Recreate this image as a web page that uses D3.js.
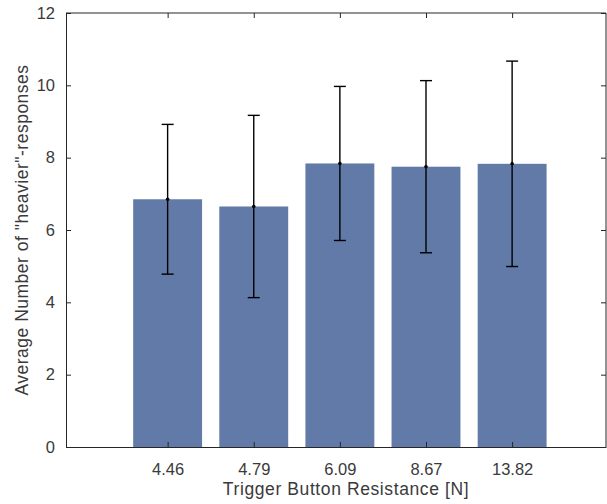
<!DOCTYPE html>
<html>
<head>
<meta charset="utf-8">
<script src="https://cdn.jsdelivr.net/npm/d3@7"></script>
<style>
  html, body { margin: 0; padding: 0; background: #fff; }
  svg { display: block; font-family: "Liberation Sans", Arial, sans-serif; }
</style>
</head>
<body>
<div id="chart"></div>
<script>
// Data
const categories = ["4.46", "4.79", "6.09", "8.67", "13.82"];
const means = [6.85, 6.65, 7.84, 7.75, 7.83];
const errors = [2.07, 2.52, 2.13, 2.38, 2.84];
const yTicks = [0, 2, 4, 6, 8, 10, 12];

const width = 607, height = 504;
const plotL = 66, plotR = 606, plotT = 13, plotB = 447;

const svg = d3.select("#chart").append("svg")
    .attr("width", width)
    .attr("height", height);

// bars sit at integer positions 1..5 like matlab's bar()
const x = d3.scaleLinear().domain([-0.18, 6.09]).range([plotL, plotR]);
const y = d3.scaleLinear().domain([0, 12]).range([plotB, plotT]);
const barW = x(0.8) - x(0);

const data = categories.map((c, i) => ({ cat: c, pos: i + 1, mean: means[i], err: errors[i] }));

// bars
svg.selectAll("rect.bar")
    .data(data)
    .enter()
    .append("rect")
    .attr("class", "bar")
    .attr("x", d => x(d.pos) - barW / 2)
    .attr("y", d => y(d.mean))
    .attr("width", barW)
    .attr("height", d => y(0) - y(d.mean))
    .attr("fill", "#627aa8");

// axes box
const axisCol = "#262626";
svg.append("line").attr("x1", plotL).attr("x2", plotR).attr("y1", plotT).attr("y2", plotT)
    .attr("stroke", axisCol).attr("stroke-width", 1);
svg.append("line").attr("x1", plotR).attr("x2", plotR).attr("y1", plotT).attr("y2", plotB)
    .attr("stroke", axisCol).attr("stroke-width", 1);

// left axis, ticks pointing inward
const yAxis = d3.axisLeft(y).tickValues(yTicks).tickSizeInner(-5).tickSizeOuter(0).tickPadding(11);
const gy = svg.append("g").attr("transform", `translate(${plotL},0)`).call(yAxis);
gy.select(".domain").attr("stroke", axisCol);
gy.selectAll(".tick line").attr("stroke", axisCol);
gy.selectAll(".tick text").attr("fill", "#3a3a3a").style("font-size", "16.5px");

// right side ticks
svg.append("g").attr("transform", `translate(${plotR},0)`)
    .call(d3.axisRight(y).tickValues(yTicks).tickSize(-5).tickFormat(""))
    .call(g => g.select(".domain").remove())
    .selectAll(".tick line").attr("stroke", axisCol);

// bottom axis
const xAxis = d3.axisBottom(x).tickValues(data.map(d => d.pos))
    .tickFormat((d, i) => categories[i]).tickSizeInner(-5).tickSizeOuter(0).tickPadding(16);
const gx = svg.append("g").attr("transform", `translate(0,${plotB})`).call(xAxis);
gx.select(".domain").attr("stroke", axisCol);
gx.selectAll(".tick line").attr("stroke", axisCol);
gx.selectAll(".tick text").attr("fill", "#3a3a3a").style("font-size", "16.5px");

// top ticks
svg.append("g").attr("transform", `translate(0,${plotT})`)
    .call(d3.axisTop(x).tickValues(data.map(d => d.pos)).tickSize(-5).tickFormat(""))
    .call(g => g.select(".domain").remove())
    .selectAll(".tick line").attr("stroke", axisCol);

// error bars
const cap = 6;
const eb = svg.selectAll("g.err").data(data).enter().append("g").attr("class", "err");
eb.append("line")
    .attr("x1", d => x(d.pos)).attr("x2", d => x(d.pos))
    .attr("y1", d => y(d.mean - d.err)).attr("y2", d => y(d.mean + d.err))
    .attr("stroke", "#000").attr("stroke-width", 1.4);
eb.append("line")
    .attr("x1", d => x(d.pos) - cap).attr("x2", d => x(d.pos) + cap)
    .attr("y1", d => y(d.mean + d.err)).attr("y2", d => y(d.mean + d.err))
    .attr("stroke", "#000").attr("stroke-width", 1.4);
eb.append("line")
    .attr("x1", d => x(d.pos) - cap).attr("x2", d => x(d.pos) + cap)
    .attr("y1", d => y(d.mean - d.err)).attr("y2", d => y(d.mean - d.err))
    .attr("stroke", "#000").attr("stroke-width", 1.4);
eb.append("circle")
    .attr("cx", d => x(d.pos)).attr("cy", d => y(d.mean)).attr("r", 1.8)
    .attr("fill", "#000");

// axis labels
svg.append("text")
    .attr("x", 346)
    .attr("y", 495)
    .attr("text-anchor", "middle")
    .attr("fill", "#3a3a3a")
    .style("font-size", "17.5px")
    .style("letter-spacing", "0.6px")
    .text("Trigger Button Resistance [N]");

svg.append("text")
    .attr("transform", `translate(28,${(plotT + plotB) / 2}) rotate(-90)`)
    .attr("text-anchor", "middle")
    .attr("fill", "#3a3a3a")
    .style("font-size", "17.5px")
    .style("letter-spacing", "0.5px")
    .text("Average Number of \"heavier\"-responses");
</script>
</body>
</html>
